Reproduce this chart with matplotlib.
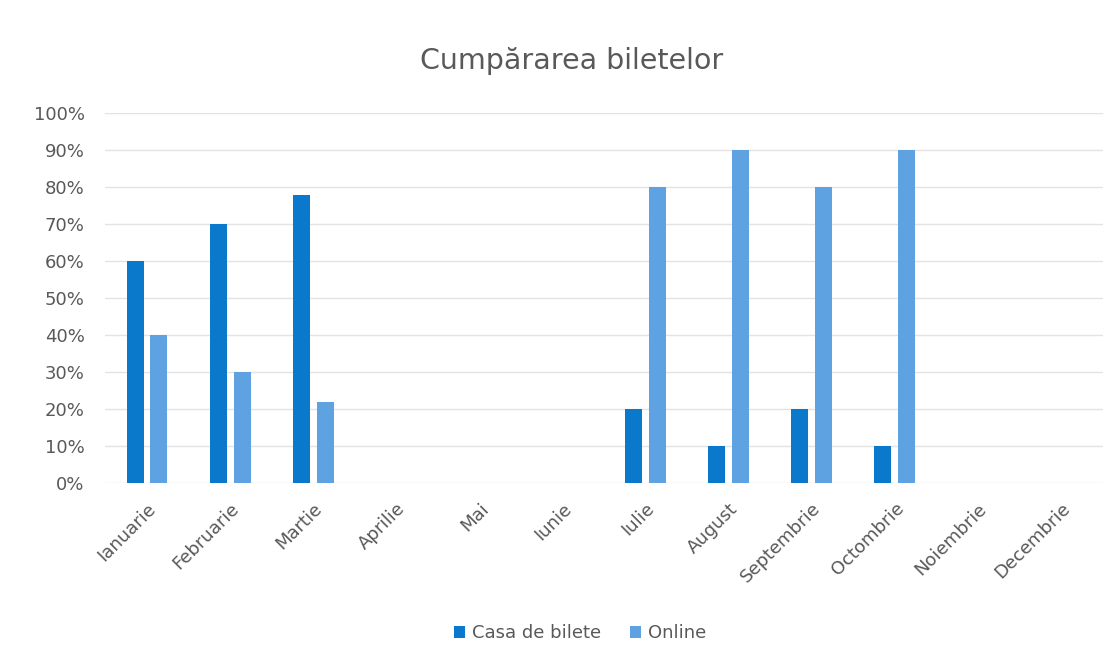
import numpy as np
import matplotlib.pyplot as plt

# data
luni = ['Ianuarie', 'Februarie', 'Martie', 'Aprilie', 'Mai', 'Iunie',
        'Iulie', 'August', 'Septembrie', 'Octombrie', 'Noiembrie', 'Decembrie']
casa = [60, 70, 78, np.nan, np.nan, np.nan, 20, 10, 20, 10, np.nan, np.nan]
online = [40, 30, 22, np.nan, np.nan, np.nan, 80, 90, 80, 90, np.nan, np.nan]

c_casa = '#0A79CB'
c_online = '#5FA2E2'
gray = '#595959'

fig = plt.figure(figsize=(11.16, 6.66), dpi=100)
ax = fig.add_axes([0.0945, 0.275, 0.8935, 0.555])

x = np.arange(len(luni))
w = 0.205
off = 0.144
ax.bar(x - off, casa, w, color=c_casa, label='Casa de bilete')
ax.bar(x + off, online, w, color=c_online, label='Online')

ax.set_xlim(-0.5, len(luni) - 0.5)
ax.set_ylim(0, 100)
ax.set_yticks(np.arange(0, 101, 10))
ax.set_yticklabels([f'{v}%' for v in range(0, 101, 10)])
ax.set_xticks(x)
ax.set_xticklabels(luni, rotation=45, ha='right', rotation_mode='anchor')
ax.tick_params(axis='both', length=0, colors=gray, labelsize=13)
ax.tick_params(axis='x', pad=12)
ax.tick_params(axis='y', pad=15)

ax.grid(axis='y', color='#E3E3E3', linewidth=1)
ax.set_axisbelow(True)
for s in ax.spines.values():
    s.set_visible(False)

fig.suptitle('Cumpărarea biletelor', x=0.512, y=0.93, fontsize=20.5, color=gray)
fig.legend(loc='center', bbox_to_anchor=(0.52, 0.049), ncol=2, frameon=False,
           fontsize=13, labelcolor=gray, handlelength=0.6, handleheight=0.6,
           columnspacing=1.6, handletextpad=0.4)

plt.savefig('out.png', dpi=100)
